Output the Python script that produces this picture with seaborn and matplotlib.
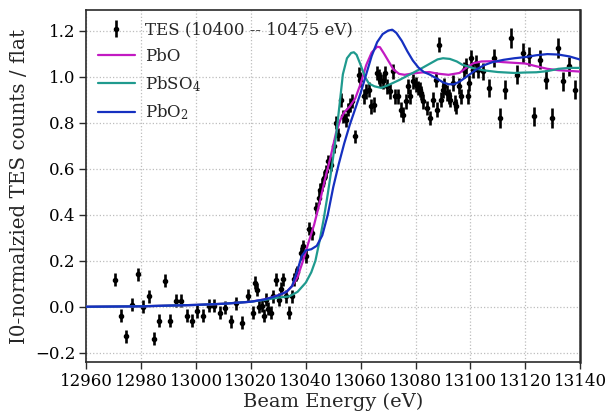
import matplotlib
matplotlib.use("Agg")
import matplotlib.pyplot as plt
import seaborn as sns
import pandas as pd

# ---------------- data ----------------
tes_energy = [
    12970.5, 12972.6, 12974.5, 12976.6, 12978.7, 12980.6, 12982.7, 12984.6, 12986.5, 12988.6,
    12990.5, 12992.6, 12994.5, 12996.6, 12998.5, 13000.5, 13002.5, 13004.7, 13006.5, 13008.7,
    13010.5, 13012.7, 13014.5, 13016.6, 13018.8, 13020.6, 13021.5, 13022.3, 13023.0, 13023.9,
    13024.7, 13025.5, 13026.3, 13027.2, 13028.1, 13029.3, 13030.2, 13030.9, 13031.7, 13032.7,
    13033.9, 13034.8, 13035.6, 13036.4, 13036.8, 13038.1, 13039.0, 13040.0, 13041.2, 13042.4,
    13043.6, 13044.8, 13045.3, 13046.0, 13046.5, 13047.3, 13048.1, 13048.7, 13049.3, 13050.2,
    13050.9, 13051.7, 13053.0, 13053.6, 13054.5, 13055.4, 13056.2, 13057.0, 13058.1, 13059.4,
    13059.9, 13061.1, 13062.1, 13063.0, 13063.9, 13064.8, 13065.9, 13066.7, 13067.2, 13068.1,
    13069.0, 13069.6, 13070.5, 13071.7, 13072.4, 13073.6, 13074.8, 13075.4, 13076.4, 13077.2,
    13077.8, 13079.0, 13080.0, 13080.8, 13081.5, 13082.1, 13082.7, 13084.1, 13085.3, 13086.3,
    13087.3, 13087.7, 13088.7, 13089.3, 13089.9, 13090.5, 13091.4, 13092.1, 13092.6, 13093.6,
    13094.2, 13094.8, 13095.7, 13096.6, 13097.6, 13098.2, 13099.0, 13099.6, 13100.3, 13100.8,
    13102.1, 13102.7, 13104.5, 13106.7, 13108.7, 13110.8, 13112.7, 13114.8, 13116.8, 13119.0,
    13121.2, 13123.3, 13125.3, 13127.5, 13129.7, 13131.8, 13133.8, 13136.0, 13138.1,
]
tes_value = [
    0.117, -0.039, -0.129, 0.009, 0.142, 0.001, 0.045, -0.139, -0.060, 0.113,
    -0.060, 0.026, 0.026, -0.039, -0.060, -0.020, -0.039, 0.004, 0.004, -0.026,
    -0.004, -0.064, 0.015, -0.070, 0.048, -0.026, 0.105, 0.074, 0.000, 0.004,
    -0.039, 0.030, -0.009, -0.026, 0.045, 0.117, 0.030, 0.078, 0.120, 0.045,
    -0.025, 0.045, 0.120, 0.139, 0.150, 0.233, 0.262, 0.219, 0.340, 0.320,
    0.429, 0.473, 0.509, 0.530, 0.560, 0.588, 0.632, 0.625, 0.617, 0.697,
    0.799, 0.748, 0.900, 0.827, 0.813, 0.857, 0.878, 0.893, 0.740, 1.009,
    0.987, 0.914, 0.936, 0.943, 0.871, 0.878, 1.016, 1.001, 0.987, 0.980,
    1.016, 0.958, 0.936, 1.023, 0.914, 0.914, 0.857, 0.835, 0.893, 0.958,
    0.914, 0.980, 0.965, 0.951, 0.943, 0.929, 0.893, 0.864, 0.820, 0.900,
    0.987, 0.857, 1.139, 0.900, 0.943, 0.958, 0.929, 0.914, 0.900, 0.973,
    0.886, 0.871, 0.958, 0.914, 1.030, 1.045, 0.914, 0.973, 1.081, 1.030,
    1.059, 1.030, 1.023, 0.951, 1.081, 0.820, 0.943, 1.168, 1.009, 1.103,
    1.088, 0.827, 1.074, 0.987, 0.820, 1.125, 0.980, 1.045, 0.943,
]
tes_error = [
    0.028, 0.028, 0.028, 0.028, 0.028, 0.028, 0.028, 0.028, 0.028, 0.028,
    0.028, 0.028, 0.028, 0.028, 0.028, 0.028, 0.028, 0.028, 0.028, 0.028,
    0.028, 0.028, 0.028, 0.028, 0.028, 0.028, 0.028, 0.028, 0.028, 0.028,
    0.028, 0.028, 0.028, 0.028, 0.028, 0.028, 0.028, 0.028, 0.028, 0.028,
    0.028, 0.028, 0.028, 0.028, 0.028, 0.028, 0.028, 0.028, 0.028, 0.028,
    0.028, 0.028, 0.028, 0.028, 0.028, 0.028, 0.028, 0.028, 0.028, 0.028,
    0.028, 0.028, 0.030, 0.030, 0.030, 0.030, 0.030, 0.030, 0.030, 0.032,
    0.032, 0.032, 0.032, 0.032, 0.032, 0.032, 0.032, 0.032, 0.032, 0.032,
    0.032, 0.032, 0.032, 0.032, 0.032, 0.032, 0.032, 0.032, 0.032, 0.032,
    0.032, 0.032, 0.032, 0.032, 0.032, 0.032, 0.032, 0.032, 0.032, 0.032,
    0.034, 0.034, 0.034, 0.034, 0.034, 0.034, 0.034, 0.034, 0.034, 0.034,
    0.034, 0.034, 0.034, 0.034, 0.034, 0.034, 0.034, 0.034, 0.034, 0.034,
    0.036, 0.036, 0.036, 0.040, 0.040, 0.042, 0.042, 0.042, 0.042, 0.042,
    0.042, 0.042, 0.042, 0.042, 0.042, 0.042, 0.042, 0.042, 0.042,
]

pbo_energy = [12960, 12980, 13000, 13010, 13020, 13025, 13028, 13030, 13033, 13035,
              13037, 13039, 13041, 13043, 13045, 13047, 13049, 13051, 13052.5, 13054,
              13056, 13058, 13060, 13062, 13064, 13066, 13067, 13068.5, 13070, 13072,
              13074, 13076, 13079, 13082, 13085, 13088, 13092, 13096, 13098, 13101,
              13104, 13108, 13112, 13116, 13120, 13124, 13128, 13132, 13136, 13140]
pbo_value = [0.000, 0.002, 0.008, 0.013, 0.022, 0.032, 0.042, 0.050, 0.065, 0.090,
             0.130, 0.200, 0.280, 0.355, 0.450, 0.555, 0.650, 0.755, 0.810, 0.845,
             0.870, 0.905, 0.970, 1.050, 1.105, 1.130, 1.128, 1.100, 1.070, 1.030,
             1.012, 1.008, 1.014, 1.018, 1.020, 1.013, 1.008, 1.016, 1.035, 1.058,
             1.066, 1.067, 1.063, 1.060, 1.057, 1.045, 1.034, 1.028, 1.025, 1.022]

pbso4_energy = [12960, 12980, 13000, 13010, 13020, 13025, 13028, 13030, 13034, 13037,
                13040, 13042, 13043.5, 13045, 13046.5, 13048, 13049.5, 13051, 13052.5, 13053.5,
                13055, 13056.5, 13057.5, 13058.5, 13060, 13061.5, 13063, 13065, 13067.5, 13070,
                13074, 13078, 13082, 13085, 13088, 13090, 13092.5, 13095, 13097, 13101,
                13105, 13110, 13116, 13120, 13124, 13128, 13132, 13136, 13140]
pbso4_value = [0.000, 0.002, 0.008, 0.013, 0.022, 0.030, 0.036, 0.040, 0.045, 0.065,
               0.105, 0.150, 0.200, 0.285, 0.380, 0.490, 0.610, 0.740, 0.900, 1.010,
               1.080, 1.103, 1.106, 1.095, 1.050, 1.000, 0.970, 0.958, 0.951, 0.963,
               0.985, 1.010, 1.035, 1.055, 1.075, 1.080, 1.077, 1.066, 1.052, 1.037,
               1.027, 1.020, 1.016, 1.018, 1.019, 1.024, 1.034, 1.038, 1.038]

pbo2_energy = [12960, 12980, 13000, 13010, 13020, 13025, 13028, 13030, 13033, 13035,
               13037, 13038.5, 13040, 13042, 13044, 13046, 13048, 13050, 13052, 13054,
               13056, 13058, 13060, 13062, 13064, 13066, 13068, 13070, 13071.5, 13073,
               13075, 13077, 13079, 13081, 13083, 13085, 13088, 13090, 13092, 13094,
               13096, 13098, 13100, 13102, 13105, 13108, 13112, 13116, 13120, 13124,
               13128, 13132, 13136, 13140]
pbo2_value = [0.000, 0.002, 0.008, 0.013, 0.022, 0.032, 0.042, 0.050, 0.065, 0.090,
              0.160, 0.220, 0.245, 0.250, 0.265, 0.310, 0.400, 0.520, 0.620, 0.710,
              0.790, 0.860, 0.930, 1.010, 1.090, 1.150, 1.185, 1.200, 1.204, 1.190,
              1.155, 1.110, 1.070, 1.040, 1.020, 1.010, 0.990, 0.975, 0.967, 0.967,
              0.978, 0.995, 1.012, 1.030, 1.050, 1.063, 1.073, 1.080, 1.085, 1.093,
              1.098, 1.096, 1.088, 1.074]

x_ticks = [12960, 12980, 13000, 13020, 13040, 13060, 13080, 13100, 13120, 13140]
y_ticks = [-0.2, 0.0, 0.2, 0.4, 0.6, 0.8, 1.0, 1.2]

tes_label = "TES (10400 -- 10475 eV)"
compound_labels = ["PbO", "PbSO$_4$", "PbO$_2$"]
compound_colors = ["#c21ac2", "#1f9a8e", "#1530c0"]

# ---------------- build table for seaborn ----------------
frames = []
for lab, e, v in zip(compound_labels,
                     [pbo_energy, pbso4_energy, pbo2_energy],
                     [pbo_value, pbso4_value, pbo2_value]):
    frames.append(pd.DataFrame({"energy": e, "value": v, "compound": lab}))
ref = pd.concat(frames, ignore_index=True)

# ---------------- style ----------------
sns.set_theme(style="whitegrid")
plt.rcParams["font.family"] = ["DejaVu Serif", "DejaVu Sans"]
plt.rcParams["mathtext.fontset"] = "dejavuserif"

fig = plt.figure(figsize=(6.16, 4.13), dpi=100)
ax = fig.add_axes([0.140, 0.1235, 0.802, 0.8525])
ax.set_facecolor("white")

ax.errorbar(tes_energy, tes_value, yerr=tes_error, fmt=".", color="black",
            ms=6, elinewidth=1.9, capsize=0, label=tes_label, zorder=2)

sns.lineplot(data=ref, x="energy", y="value", hue="compound",
             hue_order=compound_labels, palette=compound_colors,
             sort=False, estimator=None, linewidth=1.6, ax=ax, zorder=3)

ax.set_xlim(12960, 13140)
ax.set_ylim(-0.24, 1.29)
ax.set_xticks(x_ticks)
ax.set_xticklabels([str(t) for t in x_ticks])
ax.set_yticks(y_ticks)

ax.grid(True, linestyle=":", color="#bdbdbd", linewidth=0.9)
for side in ["left", "bottom", "right", "top"]:
    ax.spines[side].set_color("#2a2a2a")
    ax.spines[side].set_linewidth(1.2)
ax.spines["right"].set_linewidth(1.8)

ax.tick_params(axis="both", which="major", direction="out", length=5, width=1,
               color="#2a2a2a", labelsize=12, bottom=True, left=True,
               pad=3, labelcolor="black")

ax.set_xlabel("Beam Energy (eV)", fontsize=14, labelpad=2)
ax.set_ylabel("I0-normalzied TES counts / flat", fontsize=14.3, labelpad=4)

handles, labels = ax.get_legend_handles_labels()
order = [labels.index(tes_label)] + [labels.index(l) for l in compound_labels]
ax.legend([handles[i] for i in order], [labels[i] for i in order],
          loc="upper left", frameon=False, fontsize=12, handlelength=2.2,
          labelspacing=0.55, borderaxespad=0.3, handletextpad=0.6)

fig.savefig("out.png", dpi=100)
